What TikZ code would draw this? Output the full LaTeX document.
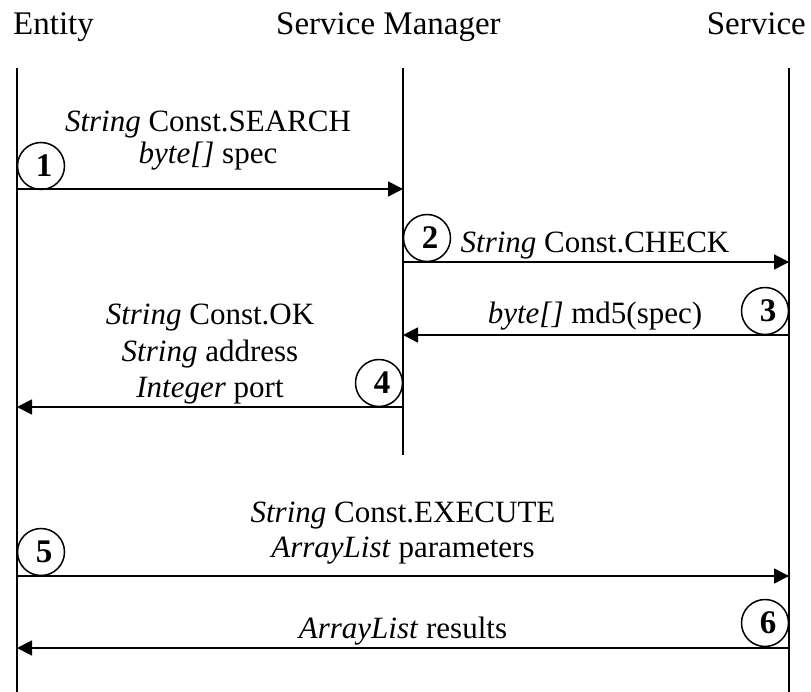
\documentclass[tikz,border=0pt]{standalone}
\usepackage{fontspec}
\setmainfont{Liberation Serif}
\usetikzlibrary{arrows.meta}
\newcommand{\stepnum}[1]{\raisebox{-4pt}{\hspace*{6pt}#1}}
\begin{document}
\begin{tikzpicture}[x=1pt,y=-1pt,
  ttl/.style={font=\fontsize{33}{38}\selectfont, inner sep=0pt},
  lbl/.style={font=\fontsize{31}{36}\selectfont, inner sep=0pt, anchor=base},
  life/.style={line width=1.6pt},
  msg/.style={line width=1.8pt, -{Triangle[length=15pt,width=15pt]}},
  num/.style={circle, draw, line width=1.5pt, minimum size=47pt, inner sep=0pt,
    font=\fontsize{33}{36}\selectfont\bfseries}]
\useasboundingbox (0,0) rectangle (811,692);
% titles
\node[ttl, anchor=base west] (tE) at (13,35) {Entity};
\node[ttl, anchor=base west] (tM) at (276,35) {Service Manager};
\node[ttl, anchor=base east] (tS) at (806,35) {Service};
% lifelines
\coordinate (E0) at (17,68);  \coordinate (E1) at (17,692);
\coordinate (M0) at (403,68); \coordinate (M1) at (403,455);
\coordinate (S0) at (789,68); \coordinate (S1) at (789,692);
\draw[life] (E0) -- (E1);
\draw[life] (M0) -- (M1);
\draw[life] (S0) -- (S1);
% message endpoints
\coordinate (e1) at (17,189);  \coordinate (m1) at (403,189);
\coordinate (m2) at (403,262); \coordinate (s2) at (789,262);
\coordinate (s3) at (789,335); \coordinate (m3) at (403,335);
\coordinate (m4) at (403,407); \coordinate (e4) at (17,407);
\coordinate (e5) at (17,576);  \coordinate (s5) at (789,576);
\coordinate (s6) at (789,648); \coordinate (e6) at (17,648);
\draw[msg] (e1) -- (m1);
\draw[msg] (m2) -- (s2);
\draw[msg] (s3) -- (m3);
\draw[msg] (m4) -- (e4);
\draw[msg] (e5) -- (s5);
\draw[msg] (s6) -- (e6);
% labels
\node[lbl] (l1a) at (208,132) {\textit{String} Const.SEARCH};
\node[lbl] (l1b) at (208,164) {\textit{byte[]} spec};
\node[lbl] (l2) at (595,253) {\textit{String} Const.CHECK};
\node[lbl] (l3) at (595,324) {\textit{byte[]} md5(spec)};
\node[lbl] (l4a) at (210,325) {\textit{String} Const.OK};
\node[lbl] (l4b) at (210,362) {\textit{String} address};
\node[lbl] (l4c) at (210,398) {\textit{Integer} port};
\node[lbl] (l5a) at (403,522) {\textit{String} Const.EXECUTE};
\node[lbl] (l5b) at (403,557) {\textit{ArrayList} parameters};
\node[lbl] (l6) at (403,638) {\textit{ArrayList} results};
% step numbers
\node[num] (n1) at (41,166) {\stepnum{1}};
\node[num] (n2) at (427,238) {\stepnum{2}};
\node[num] (n3) at (765,311) {\stepnum{3}};
\node[num] (n4) at (379,383) {\stepnum{4}};
\node[num] (n5) at (41,552) {\stepnum{5}};
\node[num] (n6) at (765,623) {\stepnum{6}};
\end{tikzpicture}
\end{document}
